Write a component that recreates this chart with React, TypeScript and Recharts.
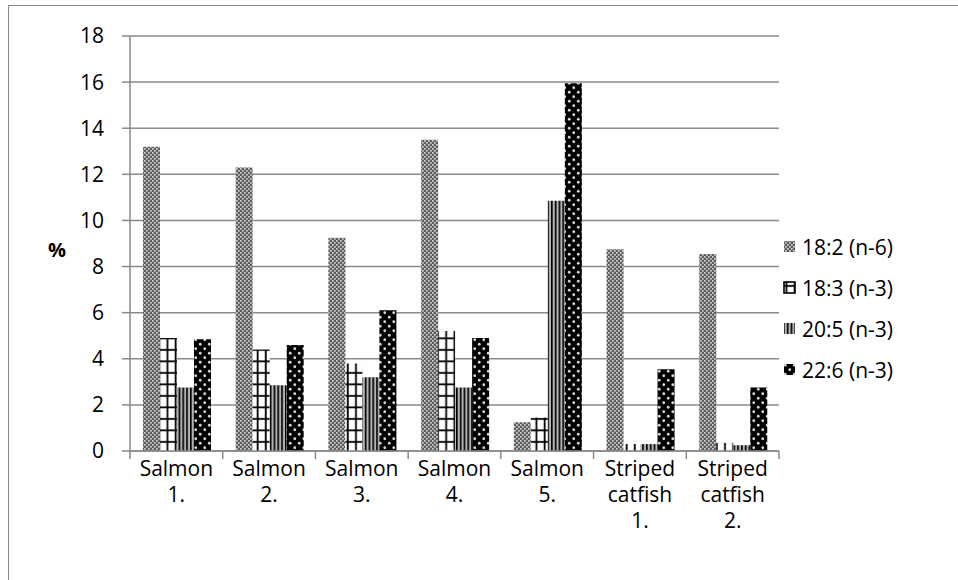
import { BarChart, Bar, XAxis, YAxis, CartesianGrid, Legend } from 'recharts';

const categories = [
  'Salmon 1.',
  'Salmon 2.',
  'Salmon 3.',
  'Salmon 4.',
  'Salmon 5.',
  'Striped catfish 1.',
  'Striped catfish 2.',
];
const la182 = [13.2, 12.3, 9.25, 13.5, 1.25, 8.75, 8.55];
const ala183 = [4.9, 4.4, 3.8, 5.2, 1.45, 0.3, 0.35];
const epa205 = [2.75, 2.85, 3.2, 2.75, 10.85, 0.3, 0.25];
const dha226 = [4.85, 4.6, 6.1, 4.9, 15.95, 3.55, 2.75];
const seriesNames = ['18:2 (n-6)', '18:3 (n-3)', '20:5 (n-3)', '22:6 (n-3)'];
const yTicks = [0, 2, 4, 6, 8, 10, 12, 14, 16, 18];

const data = categories.map((name, i) => ({
  name,
  s1: la182[i],
  s2: ala183[i],
  s3: epa205[i],
  s4: dha226[i],
}));

const FONT = '"Open Sans", sans-serif';
const GRID = '#8a8a8a';
const patternIds = ['pDots', 'pGrid', 'pStripe', 'pBlack'];

function Patterns() {
  return (
    <defs>
      <pattern id="pDots" patternUnits="userSpaceOnUse" width="4" height="4">
        <rect width="4" height="4" fill="#5e5e5e" />
        <rect x="0" y="0" width="1.7" height="1.7" fill="#d0d0d0" />
        <rect x="2" y="2" width="1.7" height="1.7" fill="#d0d0d0" />
      </pattern>
      <pattern id="pGrid" patternUnits="userSpaceOnUse" width="8.2" height="11.5">
        <rect width="8.2" height="11.5" fill="#fff" />
        <rect x="2.5" y="0" width="1.8" height="11.5" fill="#000" />
        <rect x="0" y="4" width="8.2" height="1.8" fill="#000" />
      </pattern>
      <pattern id="pStripe" patternUnits="userSpaceOnUse" width="3.8" height="4">
        <rect width="3.8" height="4" fill="#e8e8e8" />
        <rect x="0" y="0" width="1.7" height="4" fill="#000" />
        <rect x="2.4" y="0" width="0.9" height="4" fill="#777" />
      </pattern>
      <pattern id="pBlack" patternUnits="userSpaceOnUse" width="9" height="9">
        <rect width="9" height="9" fill="#000" />
        <circle cx="2.25" cy="2.25" r="1.4" fill="#d4d4d4" />
        <circle cx="6.75" cy="6.75" r="1.4" fill="#d4d4d4" />
      </pattern>
    </defs>
  );
}

function CategoryTick(props: any) {
  const { x, y, payload, index } = props;
  const half = payload && payload.offset ? payload.offset : 46.3;
  const words = String(payload.value).split(' ');
  return (
    <g>
      <line x1={x - half} x2={x - half} y1={y} y2={y + 8} stroke={GRID} strokeWidth={1.5} />
      {index === categories.length - 1 && (
        <line x1={x + half} x2={x + half} y1={y} y2={y + 8} stroke={GRID} strokeWidth={1.5} />
      )}
      {words.map((w, i) => (
        <text
          key={i}
          x={x}
          y={y + 25 + i * 26}
          textAnchor="middle"
          fontFamily={FONT}
          fontSize={21}
          fill="#000"
        >
          {w}
        </text>
      ))}
    </g>
  );
}

function LegendContent() {
  return (
    <div style={{ fontFamily: FONT, fontSize: 21, color: '#000' }}>
      {seriesNames.map((n, i) => (
        <div key={n} style={{ height: 41, display: 'flex', alignItems: 'center' }}>
          <svg width={13} height={13} style={{ marginRight: 6 }}>
            <rect
              x={1}
              y={1}
              width={11}
              height={11}
              fill={`url(#${patternIds[i]})`}
              stroke={i === 1 ? '#000' : 'none'}
              strokeWidth={1.6}
            />
          </svg>
          <span>{n}</span>
        </div>
      ))}
    </div>
  );
}

export default function App() {
  return (
    <div style={{ position: 'absolute', left: 0, top: 0, width: 958, height: 580, overflow: 'hidden', background: '#fff' }}>
      <div
        style={{
          position: 'absolute',
          left: 8,
          top: 5,
          width: 1100,
          height: 1100,
          border: '1.5px solid #8a8a8a',
        }}
      />
      <div style={{ position: 'absolute', left: 0, top: 0 }}>
        <BarChart
          width={958}
          height={580}
          data={data}
          margin={{ top: 36, right: 179, bottom: 0, left: 0 }}
          barCategoryGap="14%"
          barGap={0}
        >
          <Patterns />
          <CartesianGrid vertical={false} stroke={GRID} strokeWidth={1.5} />
          <XAxis
            dataKey="name"
            height={129}
            interval={0}
            tickSize={0}
            tickMargin={0}
            axisLine={{ stroke: GRID, strokeWidth: 1.5 }}
            tickLine={false}
            tick={<CategoryTick />}
          />
          <YAxis
            width={130}
            domain={[0, 18]}
            ticks={yTicks}
            interval={0}
            tickSize={8}
            tickMargin={18}
            axisLine={{ stroke: GRID, strokeWidth: 1.5 }}
            tickLine={{ stroke: GRID, strokeWidth: 1.5 }}
            tick={{ fill: '#000', fontSize: 21, fontFamily: FONT }}
            label={{
              value: '%',
              position: 'insideLeft',
              offset: 48,
              dy: 6,
              style: { fontFamily: FONT, fontSize: 20, fontWeight: 700, fill: '#000' },
            }}
          />
          <Legend
            layout="horizontal"
            verticalAlign="middle"
            align="center"
            wrapperStyle={{ left: 783, top: 226, width: 170 }}
            content={<LegendContent />}
          />
          <Bar dataKey="s1" name={seriesNames[0]} fill="url(#pDots)" isAnimationActive={false} />
          <Bar dataKey="s2" name={seriesNames[1]} fill="url(#pGrid)" isAnimationActive={false} />
          <Bar dataKey="s3" name={seriesNames[2]} fill="url(#pStripe)" isAnimationActive={false} />
          <Bar dataKey="s4" name={seriesNames[3]} fill="url(#pBlack)" isAnimationActive={false} />
        </BarChart>
      </div>
    </div>
  );
}
